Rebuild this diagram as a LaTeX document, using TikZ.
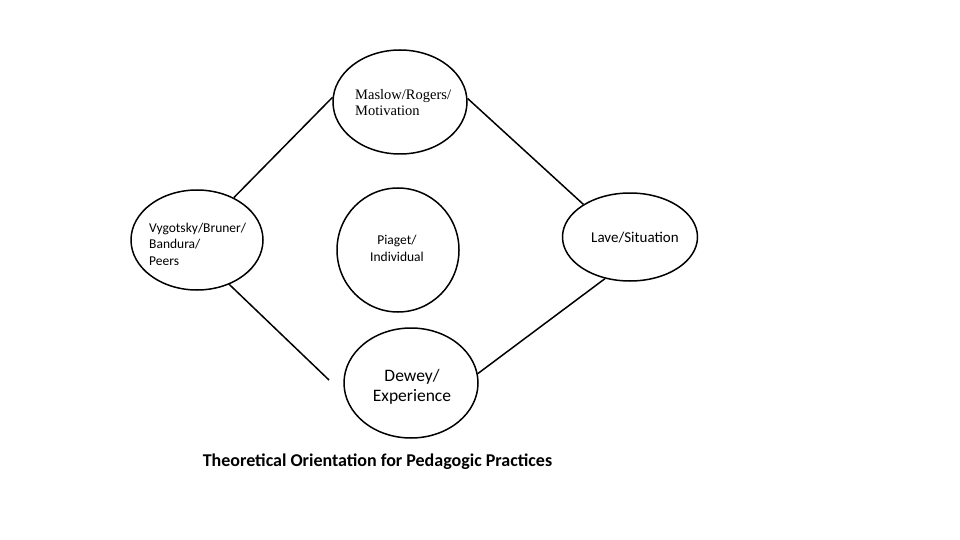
\documentclass[tikz,border=0pt]{standalone}
\usepackage{fontspec}
\setmainfont{Carlito}
\newfontfamily\timesf{Liberation Serif}
\usetikzlibrary{shapes.geometric}
\begin{document}
\begin{tikzpicture}[x=1pt,y=-1pt,
  oval/.style={draw,ellipse,line width=1.5pt,inner sep=0pt},
  conn/.style={line width=1.5pt},
  lbl/.style={inner sep=0pt}]
\fill[white] (0,0) rectangle (960,540);
\useasboundingbox (0,0) rectangle (960,540);
% ellipses
\node[oval,minimum width=134pt,minimum height=104pt] (mas) at (400,102) {};
\node[oval,minimum width=132pt,minimum height=100pt] (vyg) at (197,240) {};
\node[oval,minimum width=122pt,minimum height=124pt] (pia) at (398,250) {};
\node[oval,minimum width=134pt,minimum height=110pt] (dew) at (411,383) {};
\node[oval,minimum width=135pt,minimum height=88pt] (lav) at (630,237) {};
% labels
\node[lbl,anchor=west,text width=115pt,align=left,font=\timesf\fontsize{14.5}{16}\selectfont] (tmas) at (355,103) {Maslow/Rogers/\\Motivation};
\node[lbl,anchor=west,text width=125pt,align=left,font=\fontsize{13.5}{16.5}\selectfont] (tvyg) at (149,244) {Vygotsky/Bruner/\\Bandura/\\Peers};
\node[lbl,align=center,font=\fontsize{13.5}{17}\selectfont] (tpia) at (397,248) {Piaget/\\Individual};
\node[lbl,align=center,font=\fontsize{17.5}{20}\selectfont] (tdew) at (412,387) {Dewey/\\Experience};
\node[lbl,font=\fontsize{15}{16}\selectfont] (tlav) at (635,238) {Lave/Situation};
\node[lbl,font=\bfseries\fontsize{18}{19}\selectfont] (cap) at (377.5,462) {Theoretical Orientation for Pedagogic Practices};
% connectors
\coordinate (dewend) at (329,380);
\draw[conn] (vyg.49.6) -- (mas.176);
\draw[conn] (mas.3) -- (lav.145.8);
\draw[conn] (vyg.-54.6) -- (dewend);
\draw[conn] (dew.8) -- (lav.-121.9);
\end{tikzpicture}
\end{document}
